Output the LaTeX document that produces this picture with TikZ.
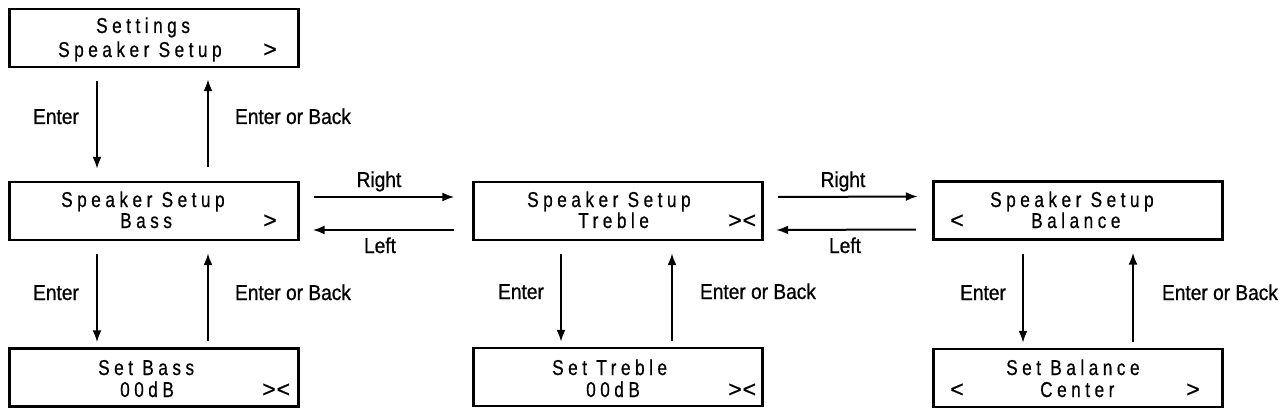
\documentclass[tikz,border=0pt]{standalone}
\usepackage{fontspec}
\setmainfont{Liberation Sans}
\newfontfamily\lcdfont[FakeStretch=0.8,LetterSpace=21,FakeBold=0.6]{Liberation Sans}
\newfontfamily\symfont[FakeBold=0.6]{Liberation Sans}
\newfontfamily\labfont[FakeStretch=0.89,FakeBold=0.8]{Liberation Sans}
\usetikzlibrary{arrows.meta}
\begin{document}
\begin{tikzpicture}[x=1pt,y=-1pt,
  box/.style={draw, line width=2.4pt, minimum width=289pt, minimum height=58pt, inner sep=0pt},
  lcd/.style={font=\lcdfont\fontsize{21.5}{24}\selectfont, inner sep=0pt, anchor=base west},
  sym/.style={font=\symfont\fontsize{23}{24}\selectfont, inner sep=0pt, anchor=base west},
  lab/.style={font=\labfont\fontsize{21.5}{24}\selectfont, inner sep=0pt, anchor=base},
  arr/.style={line width=2pt, -{Latex[length=12pt,width=9pt]}}]
\useasboundingbox (0,0) rectangle (1285,417);
% boxes
\node[box] (settings) at (154,38) {};
\node[box] (bass) at (154,211) {};
\node[box] (treble) at (618,211) {};
\node[box] (balance) at (1078,210.5) {};
\node[box] (setbass) at (154,377.5) {};
\node[box] (settreble) at (618,377) {};
\node[box] (setbalance) at (1078,378) {};
% box texts
\node[lcd] (t1a) at (96,33) {Settings};
\node[lcd] (t1b) at (58,57) {Speaker Setup};
\node[sym] (t1c) at (263,57) {>};
\node[lcd] (t2a) at (61,207) {Speaker Setup};
\node[lcd] (t2b) at (120,228) {Bass};
\node[sym] (t2c) at (263,228) {>};
\node[lcd] (t3a) at (527,207) {Speaker Setup};
\node[lcd] (t3b) at (578,228) {Treble};
\node[sym] (t3c) at (728,228) {>\kern1pt<};
\node[sym] (t4c) at (950,228) {<};
\node[lcd] (t4a) at (990,207) {Speaker Setup};
\node[lcd] (t4b) at (1031,228) {Balance};
\node[lcd] (t5a) at (98,375) {Set Bass};
\node[lcd] (t5b) at (120,397) {00dB};
\node[sym] (t5c) at (262,397) {>\kern1pt<};
\node[lcd] (t6a) at (552,375) {Set Treble};
\node[lcd] (t6b) at (586,397) {00dB};
\node[sym] (t6c) at (728,397) {>\kern1pt<};
\node[sym] (t7c) at (950,397) {<};
\node[lcd] (t7a) at (1006,375) {Set Balance};
\node[lcd] (t7b) at (1040,397) {Center};
\node[sym] (t7d) at (1186,397) {>};
% vertical arrows
\draw[arr] ([xshift=-57pt,yshift=-13pt]settings.south) -- ([xshift=-57pt,yshift=12pt]bass.north);
\draw[arr] ([xshift=54pt,yshift=14pt]bass.north) -- ([xshift=54pt,yshift=-11pt]settings.south);
\draw[arr] ([xshift=-57pt,yshift=-13pt]bass.south) -- ([xshift=-57pt,yshift=5pt]setbass.north);
\draw[arr] ([xshift=54pt,yshift=6pt]setbass.north) -- ([xshift=54pt,yshift=-12pt]bass.south);
\draw[arr] ([xshift=-57pt,yshift=-13pt]treble.south) -- ([xshift=-57pt,yshift=5pt]settreble.north);
\draw[arr] ([xshift=54pt,yshift=6pt]settreble.north) -- ([xshift=54pt,yshift=-12pt]treble.south);
\draw[arr] ([xshift=-55pt,yshift=-13pt]balance.south) -- ([xshift=-55pt,yshift=5pt]setbalance.north);
\draw[arr] ([xshift=55pt,yshift=6pt]setbalance.north) -- ([xshift=55pt,yshift=-12pt]balance.south);
% horizontal arrows
\draw[arr] ([xshift=14pt,yshift=14pt]bass.east) -- ([xshift=-18pt,yshift=14pt]treble.west);
\draw[arr] ([xshift=-18pt,yshift=-19pt]treble.west) -- ([xshift=13pt,yshift=-19pt]bass.east);
\draw[arr] ([xshift=14.5pt,yshift=14pt]treble.east) -- ([xshift=-14.5pt,yshift=14pt]balance.west);
\draw[arr] ([xshift=-16.5pt,yshift=-19pt]balance.west) -- ([xshift=12.5pt,yshift=-19pt]treble.east);
% labels
\node[lab] (l1) at (56,124) {Enter};
\node[lab] (l2) at (293,124) {Enter or Back};
\node[lab] (l3) at (56,300) {Enter};
\node[lab] (l4) at (293,300) {Enter or Back};
\node[lab] (l5) at (521,299) {Enter};
\node[lab] (l6) at (758,299) {Enter or Back};
\node[lab] (l7) at (983,300) {Enter};
\node[lab] (l8) at (1220,300) {Enter or Back};
\node[lab] (l9) at (379,187) {Right};
\node[lab] (l10) at (380,253) {Left};
\node[lab] (l11) at (843,187) {Right};
\node[lab] (l12) at (845,253) {Left};
\end{tikzpicture}
\end{document}
